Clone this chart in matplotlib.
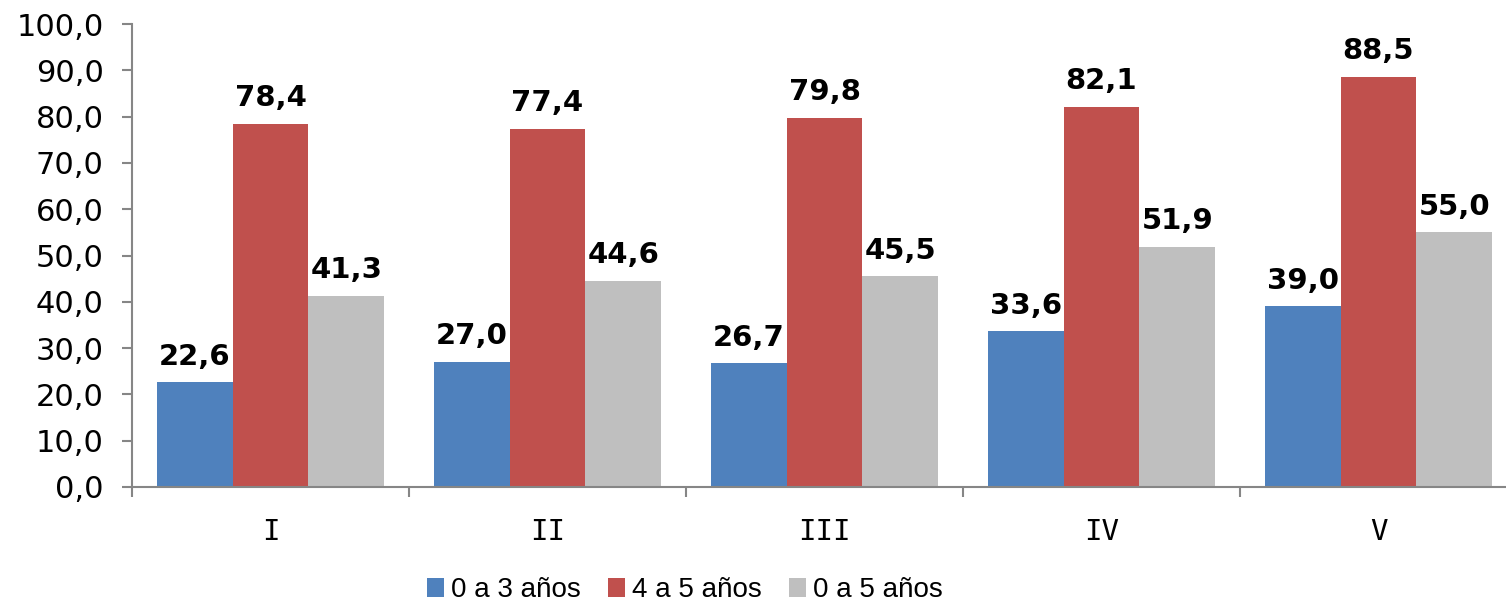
import matplotlib
matplotlib.use("Agg")
import matplotlib.pyplot as plt
import numpy as np

categories = ["I", "II", "III", "IV", "V"]
series_names = ["0 a 3 años", "4 a 5 años", "0 a 5 años"]
v_0_3 = [22.6, 27.0, 26.7, 33.6, 39.0]
v_4_5 = [78.4, 77.4, 79.8, 82.1, 88.5]
v_0_5 = [41.3, 44.6, 45.5, 51.9, 55.0]
colors = ["#4F81BD", "#C0504D", "#BFBFBF"]
yticks = [0, 10, 20, 30, 40, 50, 60, 70, 80, 90, 100]

fig = plt.figure(figsize=(15.06, 6.05), dpi=100)
ax = fig.add_axes([132 / 1506, 1 - 487 / 605, (1517 - 132) / 1506, (487 - 24) / 605])

x = np.arange(len(categories))
w = 0.2733
series = [v_0_3, v_4_5, v_0_5]
for i, (vals, c, name) in enumerate(zip(series, colors, series_names)):
    bars = ax.bar(x + (i - 1) * w, vals, width=w, color=c, label=name, zorder=2,
                  edgecolor="none")
    for b, v in zip(bars, vals):
        ax.annotate(f"{v:.1f}".replace(".", ","),
                    (b.get_x() + b.get_width() / 2, v),
                    xytext=(0, 8.5), textcoords="offset points",
                    ha="center", va="bottom", fontsize=21, fontweight="bold",
                    family="DejaVu Sans", color="black")

ax.set_xlim(-0.5, len(categories) - 0.5)
ax.set_ylim(0, 100)
ax.set_yticks(yticks)
ax.set_yticklabels([f"{t:.1f}".replace(".", ",") for t in yticks],
                   fontsize=22, family="DejaVu Sans")

ax.set_xticks(np.arange(len(categories) + 1) - 0.5)
ax.set_xticklabels([])
ax.set_xticks(x, minor=True)
ax.set_xticklabels(categories, minor=True, fontsize=21, family="DejaVu Sans Mono")

spine_c = "#868686"
for s in ["top", "right"]:
    ax.spines[s].set_visible(False)
for s in ["left", "bottom"]:
    ax.spines[s].set_color(spine_c)
    ax.spines[s].set_linewidth(1.5)
ax.tick_params(axis="y", which="major", length=7.5, width=1.5, color=spine_c, pad=13)
ax.tick_params(axis="x", which="major", length=7.5, width=1.5, color=spine_c)
ax.tick_params(axis="x", which="minor", length=0, pad=22)

handles, labels = ax.get_legend_handles_labels()
fig.legend(handles, labels, loc="center", bbox_to_anchor=(685 / 1506, 1 - 590 / 605),
           ncol=3, frameon=False, prop={"family": "Liberation Sans", "size": 20},
           handlelength=0.6, handleheight=0.7, handletextpad=0.25, columnspacing=1.0,
           borderpad=0, borderaxespad=0)

fig.savefig("out.png", dpi=100)
